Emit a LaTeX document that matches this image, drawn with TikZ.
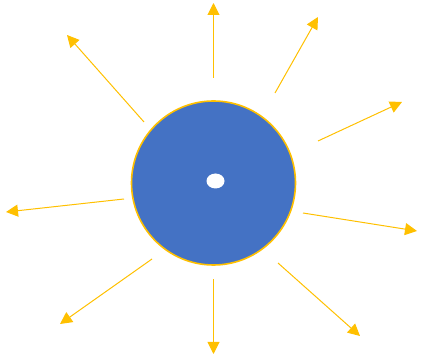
\documentclass[tikz,border=0pt]{standalone}
\usetikzlibrary{arrows.meta,shapes.geometric}
\definecolor{sunblue}{HTML}{4472C4}
\definecolor{rayorange}{HTML}{FFC000}
\tikzset{
  ray/.style={draw=rayorange,line width=1pt,-{Triangle[length=12pt,width=12pt]}},
}
\begin{document}
\begin{tikzpicture}[x=1pt,y=-1pt]
\useasboundingbox (0,0) rectangle (421,358);
\node[circle,draw=rayorange,fill=sunblue,line width=1.6pt,minimum size=164pt,inner sep=0pt] (sun) at (213.5,183) {};
\node[ellipse,fill=white,minimum width=18pt,minimum height=15pt,inner sep=0pt] (dot) at (215.5,181) {};
% ray start and end points
\coordinate (n0) at (213.5,78);  \coordinate (n1) at (213.5,3);
\coordinate (ne0) at (275,93);   \coordinate (ne1) at (318,17);
\coordinate (nw0) at (144,122);  \coordinate (nw1) at (67,35);
\coordinate (e0) at (318,141);   \coordinate (e1) at (402,102);
\coordinate (w0) at (124,199);   \coordinate (w1) at (6,212);
\coordinate (se0) at (303,213);  \coordinate (se1) at (417,231);
\coordinate (sw0) at (152,259);  \coordinate (sw1) at (60,324);
\coordinate (s0) at (213.5,279); \coordinate (s1) at (213.5,354);
\coordinate (sse0) at (278,263); \coordinate (sse1) at (360,336);
\draw[ray] (n0) -- (n1);
\draw[ray] (ne0) -- (ne1);
\draw[ray] (nw0) -- (nw1);
\draw[ray] (e0) -- (e1);
\draw[ray] (w0) -- (w1);
\draw[ray] (se0) -- (se1);
\draw[ray] (sw0) -- (sw1);
\draw[ray] (s0) -- (s1);
\draw[ray] (sse0) -- (sse1);
\end{tikzpicture}
\end{document}
